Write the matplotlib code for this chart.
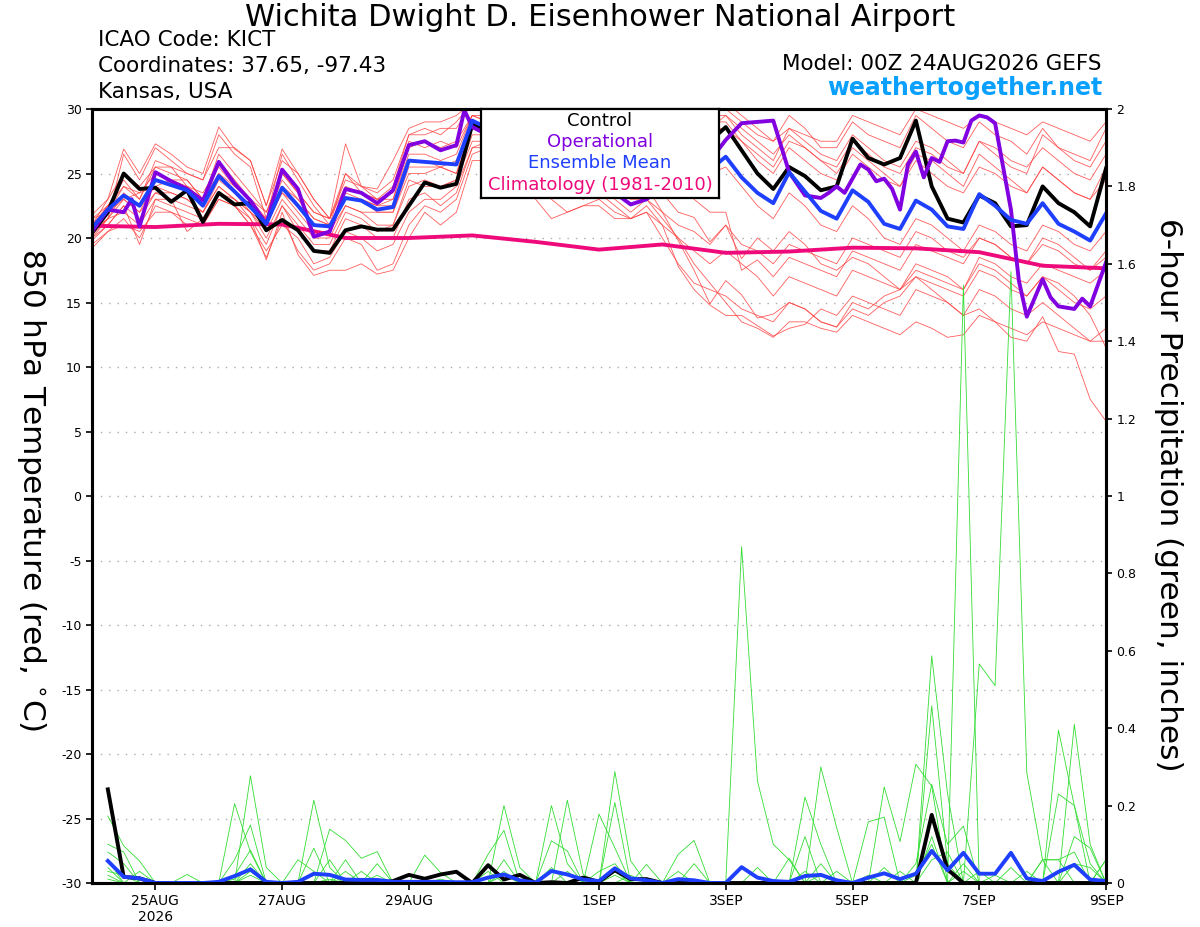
import numpy as np
import matplotlib
matplotlib.use('Agg')
import matplotlib.pyplot as plt

plt.rcParams['font.family'] = ['DejaVu Sans']

# forecast hours (00Z 24AUG2026 GEFS run)
temp_hours = np.arange(0, 385, 6)
precip_hours = np.arange(6, 385, 6)

# control run, 850 hPa temperature (C)
control_temp = [20.4, 22.0, 25.0, 23.8, 23.9, 22.8, 23.7, 21.25, 23.5, 22.6, 22.7, 20.6, 21.4, 20.6, 19.0, 18.85, 20.6, 20.9, 20.65, 20.65, 22.5, 24.3, 23.9, 24.2, 28.8,
                28.4, 28.0, 27.5, 27.0, 26.5, 26.0, 25.5, 25.0, 24.8, 24.5, 25.0, 25.5, 26.0, 26.5, 27.5,
                28.6, 26.8, 25.0, 23.8, 25.5, 24.8, 23.7, 24.0, 27.7, 26.2, 25.7, 26.2, 29.1, 24.0, 21.5, 21.2, 23.3, 22.7, 20.9, 21.0, 24.0, 22.7, 22.0, 20.9, 25.4]

# ensemble mean temperature
mean_temp = [20.8, 22.2, 23.3, 22.5, 24.5, 24.1, 23.7, 22.5, 24.8, 23.6, 22.4, 21.1, 23.9, 22.5, 21.0, 20.9, 23.1, 22.9, 22.2, 22.4, 26.0, 25.9, 25.8, 25.7, 29.1,
             28.5, 27.8, 27.0, 26.5, 27.0, 26.3, 25.5, 25.8, 25.0, 24.3, 24.5, 25.0, 24.5, 24.5, 25.3,
             26.3, 24.7, 23.5, 22.7, 25.1, 23.6, 22.1, 21.5, 23.7, 22.8, 21.1, 20.7, 22.9, 22.2, 20.9, 20.7, 23.4, 22.5, 21.4, 21.1, 22.7, 21.1, 20.5, 19.8, 21.9]

# operational run (read at its own output hours)
op_hours = [0, 6, 12, 15, 18, 24, 30, 36, 42, 48, 54, 60, 66, 72, 78, 84, 90, 96, 102, 108, 114, 120, 126, 132, 138, 141, 144,
            150, 156, 162, 168, 174, 180, 186, 192, 198, 204, 210, 216, 222, 228, 234, 240, 246, 252, 258, 264,
            270, 273, 276, 279, 282, 285, 291, 294, 297, 300, 303, 306, 309, 312, 315, 318, 321, 324, 327, 330,
            333, 336, 339, 342, 348, 351, 354, 360, 363, 366, 372, 375, 378, 384]
op_temp = [20.5, 22.2, 22.0, 23.0, 20.9, 25.1, 24.4, 23.8, 22.9, 25.9, 24.2, 22.9, 21.1, 25.3, 23.8, 20.1, 20.5, 23.8, 23.5, 22.7, 23.7, 27.2, 27.5, 26.8, 27.2, 29.9, 28.6,
           28.0, 27.5, 27.0, 26.5, 26.0, 25.5, 24.5, 24.0, 23.5, 22.6, 23.0, 24.0, 24.5, 25.5, 26.0, 27.6, 28.9, 29.0, 29.1, 25.1,
           23.3, 23.2, 23.1, 23.5, 24.0, 23.5, 25.7, 25.3, 24.4, 24.6, 23.8, 22.2, 25.7, 26.7, 24.7, 26.2, 25.9, 27.5, 27.55, 27.4,
           29.1, 29.5, 29.35, 28.9, 22.2, 16.7, 13.9, 16.8, 15.4, 14.7, 14.5, 15.3, 14.7, 18.1]

# climatology 1981-2010, daily
clim_days = np.arange(0, 17)
clim_temp = [20.95, 20.85, 21.1, 21.05, 20.0, 20.0, 20.2, 19.7, 19.1, 19.5, 18.85, 18.95, 19.25, 19.2, 18.9, 17.85, 17.65]

# ensemble members, temperature
red_01 = [21.0, 22.5, 24.5, 23.0, 26.0, 25.5, 24.0, 23.0, 26.5, 25.0, 23.5, 22.0, 25.0, 23.5, 22.0, 21.5, 24.5, 24.0, 23.0, 23.5, 27.5, 27.0, 27.5, 27.0, 29.5,
          29.0, 28.5, 28.0, 27.5, 28.0, 27.0, 26.5, 27.0, 26.0, 25.5, 26.0, 27.0, 26.5, 27.5, 28.5,
          29.5, 28.0, 27.0, 26.0, 28.5, 27.5, 26.5, 26.0, 28.0, 27.0, 26.0, 25.5, 27.5, 27.0, 26.0, 25.0, 27.5, 26.5, 25.5, 25.0, 28.0, 27.0, 26.5, 26.0, 28.5]
red_02 = [19.5, 20.5, 21.5, 20.0, 22.5, 22.0, 21.0, 21.0, 23.0, 22.5, 21.0, 18.5, 21.5, 19.0, 17.5, 18.0, 20.0, 19.5, 17.5, 18.0, 21.0, 22.5, 22.0, 23.0, 26.5,
          27.0, 26.5, 25.5, 24.0, 23.0, 22.0, 22.5, 23.0, 22.0, 21.5, 22.5, 21.0, 17.8, 16.0, 14.8,
          14.0, 14.0, 13.2, 12.4, 13.0, 13.3, 14.5, 14.0, 15.5, 15.0, 14.5, 14.0, 16.0, 15.5, 15.0, 14.0, 16.0, 15.5, 14.5, 14.0, 15.0, 14.0, 13.0, 12.0, 12.0]
red_03 = [20.5, 21.5, 26.5, 24.5, 27.0, 26.0, 25.0, 24.5, 28.0, 26.5, 25.5, 21.5, 26.5, 24.5, 22.5, 21.0, 25.0, 23.5, 23.0, 24.0, 28.0, 28.5, 28.0, 29.0, 30.5,
          30.5, 29.5, 29.0, 28.5, 29.0, 28.5, 27.5, 28.0, 27.5, 26.5, 27.5, 28.5, 29.0, 29.5, 30.0,
          30.5, 29.5, 28.5, 27.5, 29.5, 28.5, 27.0, 27.0, 29.0, 28.0, 27.5, 27.0, 29.5, 28.5, 27.5, 27.0, 29.0, 28.0, 27.5, 26.5, 28.5, 27.0, 26.0, 25.5, 27.5]
red_04 = [20.0, 21.0, 22.5, 21.5, 23.5, 23.5, 23.0, 22.0, 24.0, 23.0, 22.0, 20.0, 22.5, 21.0, 19.5, 19.5, 22.0, 21.5, 20.5, 21.0, 24.0, 24.5, 24.0, 24.5, 27.5,
          27.5, 27.0, 26.0, 25.5, 25.0, 24.5, 24.0, 24.5, 23.0, 22.0, 23.0, 23.5, 22.0, 21.6, 19.7,
          21.0, 18.4, 20.0, 19.0, 20.5, 19.5, 18.0, 17.5, 18.5, 18.0, 17.0, 16.0, 17.0, 16.0, 15.0, 14.0, 14.5, 13.5, 12.3, 12.0, 13.9, 11.2, 11.0, 7.5, 5.8]
red_05 = [21.5, 22.0, 23.0, 23.5, 24.0, 24.5, 24.5, 23.0, 25.0, 24.0, 23.0, 21.0, 24.0, 23.0, 21.5, 21.0, 23.0, 23.0, 22.5, 22.5, 26.0, 26.0, 25.5, 26.0, 29.0,
          28.5, 28.0, 27.0, 26.5, 27.0, 26.5, 25.0, 25.5, 24.5, 24.0, 24.0, 22.0, 19.8, 17.5, 14.9,
          16.7, 15.6, 13.8, 14.1, 15.0, 14.5, 13.5, 13.1, 14.5, 14.0, 15.0, 15.5, 17.0, 16.5, 16.0, 15.5, 17.5, 17.0, 16.0, 15.5, 17.0, 16.5, 15.5, 14.0, 11.5]
red_06 = [20.8, 22.5, 23.0, 22.0, 24.5, 24.0, 24.0, 22.5, 25.0, 23.5, 22.0, 21.0, 23.5, 22.0, 20.5, 20.5, 22.5, 22.0, 22.0, 22.0, 25.5, 25.5, 25.5, 25.0, 29.0,
          28.0, 27.5, 27.0, 26.0, 27.0, 26.0, 25.0, 25.5, 25.0, 24.0, 24.5, 25.5, 24.0, 23.0, 22.0,
          22.0, 17.5, 18.3, 17.0, 18.5, 18.0, 17.5, 17.0, 19.0, 18.5, 18.0, 17.5, 19.5, 19.0, 18.5, 18.0, 20.0, 19.5, 18.5, 18.0, 20.0, 19.5, 18.5, 17.5, 19.0]
red_07 = [21.0, 23.0, 25.0, 24.0, 25.5, 25.5, 25.0, 24.5, 27.0, 27.0, 26.0, 22.5, 26.0, 25.0, 23.0, 21.5, 27.3, 24.0, 23.8, 26.0, 28.5, 29.0, 29.0, 29.5, 30.5,
          30.0, 29.5, 29.0, 29.0, 29.5, 29.0, 28.0, 28.5, 28.0, 27.5, 28.0, 29.0, 29.5, 30.0, 30.5,
          30.0, 29.0, 28.0, 27.5, 28.5, 28.0, 27.5, 27.5, 29.5, 29.0, 28.5, 28.0, 30.0, 29.5, 29.0, 28.5, 29.5, 29.0, 28.5, 28.0, 29.0, 28.5, 28.0, 27.5, 29.0]
red_08 = [19.8, 21.0, 22.5, 19.5, 23.0, 23.0, 20.5, 21.5, 23.5, 23.0, 21.5, 19.5, 22.5, 20.5, 19.0, 19.0, 21.5, 21.0, 20.0, 20.0, 23.0, 23.5, 22.5, 23.5, 27.0,
          27.5, 26.5, 25.5, 24.5, 24.0, 23.5, 23.0, 23.5, 22.5, 21.5, 22.0, 21.0, 20.0, 19.0, 18.0,
          19.0, 18.0, 17.0, 15.5, 17.0, 16.5, 16.0, 15.5, 17.5, 17.0, 16.5, 16.0, 18.0, 17.5, 17.0, 16.0, 18.5, 18.0, 17.0, 16.5, 18.0, 17.5, 17.0, 16.5, 17.5]
red_09 = [21.5, 22.5, 24.0, 23.0, 25.5, 25.0, 24.5, 23.0, 26.0, 24.5, 23.0, 22.0, 25.0, 23.5, 22.0, 21.5, 24.0, 23.5, 23.0, 23.0, 27.0, 27.5, 27.0, 27.5, 29.5,
          29.5, 29.0, 28.5, 28.0, 28.5, 28.0, 27.0, 27.5, 27.0, 26.5, 26.5, 27.5, 28.0, 28.5, 29.0,
          29.0, 27.5, 26.0, 25.0, 27.0, 26.0, 25.0, 24.5, 26.5, 25.5, 24.5, 24.0, 26.0, 25.0, 24.0, 23.5, 25.5, 25.0, 24.0, 23.5, 25.5, 24.5, 23.5, 23.0, 24.5]
red_10 = [20.2, 21.5, 23.5, 22.5, 24.0, 23.5, 23.0, 22.0, 24.5, 23.5, 22.5, 21.5, 23.5, 22.5, 21.0, 21.0, 23.0, 23.0, 22.0, 22.0, 25.0, 25.0, 25.5, 25.0, 28.5,
          28.5, 28.0, 27.5, 27.0, 27.5, 27.0, 26.0, 26.0, 25.5, 25.0, 25.0, 26.0, 25.0, 24.5, 25.0,
          25.5, 24.0, 22.5, 21.5, 23.5, 22.5, 21.0, 20.5, 22.5, 21.5, 20.0, 19.5, 21.5, 21.0, 20.0, 19.0, 21.0, 20.5, 19.5, 19.0, 21.0, 20.5, 19.5, 19.0, 20.5]
red_11 = [20.5, 21.5, 22.0, 21.0, 23.0, 22.5, 22.0, 21.5, 23.5, 22.5, 21.5, 18.3, 22.0, 18.7, 17.1, 17.5, 17.5, 18.0, 17.2, 17.5, 20.0, 22.0, 21.0, 22.0, 26.0,
          26.0, 25.5, 24.5, 23.0, 21.5, 22.0, 22.5, 22.5, 21.5, 21.5, 22.0, 20.0, 18.0, 16.5, 16.0,
          15.5, 14.5, 14.0, 13.5, 15.0, 14.5, 13.5, 13.1, 15.0, 14.5, 15.5, 16.0, 17.5, 17.0, 16.5, 16.0, 18.0, 17.5, 16.5, 15.5, 17.0, 16.0, 15.0, 14.5, 15.5]
red_12 = [21.8, 23.0, 26.9, 25.0, 27.3, 26.5, 25.5, 25.0, 28.6, 26.9, 26.0, 22.5, 26.9, 25.0, 23.0, 21.5, 25.0, 24.0, 23.5, 24.5, 28.0, 28.0, 28.5, 28.5, 30.5,
          30.0, 29.0, 28.5, 28.0, 28.5, 28.0, 27.5, 28.0, 27.0, 26.5, 27.0, 28.0, 28.5, 29.0, 29.5,
          29.5, 28.5, 27.5, 26.5, 28.0, 27.0, 26.0, 25.5, 27.5, 26.5, 25.5, 25.0, 27.0, 26.5, 25.5, 25.0, 27.5, 27.0, 26.0, 25.5, 27.0, 26.0, 25.0, 24.5, 26.5]
red_13 = [19.2, 20.5, 21.0, 20.5, 22.0, 22.0, 21.5, 21.0, 23.0, 22.5, 21.0, 19.0, 21.0, 20.0, 18.0, 18.5, 20.5, 20.0, 19.0, 19.5, 22.0, 23.0, 23.0, 24.0, 27.0,
          27.0, 26.0, 25.5, 25.0, 24.5, 24.0, 24.0, 24.0, 23.5, 22.5, 23.0, 22.0, 21.0, 20.5, 19.5,
          21.0, 19.5, 19.0, 18.0, 19.5, 19.0, 18.5, 18.0, 20.0, 19.5, 19.0, 18.5, 20.5, 20.0, 19.0, 18.5, 20.0, 19.5, 18.5, 18.0, 19.5, 19.0, 18.0, 17.5, 18.5]
red_14 = [20.0, 21.5, 23.0, 22.0, 23.5, 23.0, 22.5, 22.0, 24.0, 23.0, 22.0, 20.5, 23.0, 21.5, 20.0, 20.0, 22.5, 22.0, 21.0, 21.0, 24.5, 24.0, 24.0, 24.5, 28.0,
          28.0, 27.0, 26.5, 25.5, 26.0, 25.0, 24.5, 24.5, 23.5, 23.0, 23.0, 21.5, 20.0, 18.0, 16.5,
          15.0, 13.5, 13.0, 12.3, 13.5, 13.5, 13.0, 12.7, 14.0, 13.5, 13.0, 12.5, 13.5, 13.0, 12.3, 12.5, 14.0, 13.5, 13.0, 12.5, 13.5, 13.0, 12.5, 12.0, 13.0]
red_15 = [21.0, 22.0, 24.0, 23.5, 25.0, 24.5, 24.0, 23.5, 25.5, 24.0, 23.0, 21.5, 24.5, 23.0, 21.5, 21.0, 23.5, 23.0, 22.5, 23.0, 26.5, 26.5, 26.0, 26.5, 29.5,
          29.0, 28.5, 28.0, 27.5, 28.0, 27.5, 26.5, 27.0, 26.5, 26.0, 26.0, 27.0, 27.5, 28.0, 28.5,
          28.5, 27.5, 26.5, 25.5, 27.5, 27.0, 26.0, 25.0, 27.0, 26.0, 25.0, 24.0, 26.5, 26.0, 25.0, 24.0, 26.5, 25.5, 24.5, 23.5, 25.5, 24.5, 23.5, 23.0, 25.5]
red_members = [red_01, red_02, red_03, red_04, red_05, red_06, red_07, red_08,
               red_09, red_10, red_11, red_12, red_13, red_14, red_15]

# 6-hour precipitation (inches)
control_precip = [0.242, 0.016, 0.012, 0, 0, 0, 0, 0, 0, 0, 0, 0, 0, 0, 0, 0,
                  0, 0, 0.005, 0.021, 0.011, 0.022, 0.029, 0, 0.046, 0.009, 0.021, 0, 0.002, 0, 0.014, 0.003,
                  0.033, 0.01, 0.01, 0, 0, 0, 0, 0, 0, 0, 0, 0, 0, 0, 0, 0,
                  0, 0, 0, 0, 0.176, 0.035, 0, 0, 0, 0, 0, 0, 0, 0, 0, 0]
mean_precip = [0.057, 0.016, 0.012, 0, 0, 0, 0, 0.003, 0.018, 0.035, 0.003, 0, 0.003, 0.024, 0.021, 0.009,
               0.008, 0.008, 0.003, 0.003, 0.003, 0.003, 0.002, 0.002, 0.014, 0.022, 0.007, 0.001, 0.031, 0.022, 0.009, 0.005,
               0.038, 0.012, 0.007, 0, 0.01, 0.007, 0, 0, 0.041, 0.014, 0.005, 0.003, 0.018, 0.021, 0.007, 0,
               0.014, 0.025, 0.01, 0.024, 0.083, 0.033, 0.078, 0.024, 0.024, 0.078, 0.012, 0.005, 0.029, 0.047, 0.009, 0.005]

green_01 = [.173, .096, .057, 0, 0, 0, 0, 0, .205, .08, 0, 0, 0, .214, .04, 0,
            0, 0, 0, 0, 0, 0, 0, 0, 0, 0, 0, 0, .2, .05, 0, 0,
            0, 0, 0, 0, 0, 0, 0, 0, .869, .264, .1, .06, 0, 0, 0, 0,
            0, 0, 0, 0, .587, .23, 0, 0, 0, 0, 0, 0, .395, .2, .05, 0]
green_02 = [.10, .08, 0, 0, 0, 0, 0, 0, 0, .277, .04, 0, 0, 0, .139, .11,
            .064, .081, 0, 0, 0, 0, 0, 0, 0, .2, .04, 0, 0, 0, 0, 0,
            .288, .057, 0, 0, 0, 0, 0, 0, 0, 0, 0, 0, 0, .3, .143, 0,
            0, 0, 0, 0, 0, 0, 1.545, 0, 0, 0, 0, 0, 0, .41, .1, 0]
green_03 = [.08, .05, 0, 0, 0, 0, 0, 0, .06, .15, 0, 0, 0, .09, 0, .06,
            0, 0, 0, 0, .072, .027, 0, 0, 0, 0, 0, 0, 0, .214, .022, 0,
            .208, 0, .048, 0, 0, 0, 0, 0, 0, 0, 0, 0, .222, .1, 0, 0,
            0, .248, .107, .307, .25, 0, 0, .566, .51, 1.58, .285, .059, 0, 0, 0, 0]
green_04 = [.06, 0, 0, 0, 0, 0, 0, 0, .02, .085, 0, 0, .06, .03, 0, 0,
            0, .05, 0, 0, 0, 0, 0, 0, .074, .136, 0, 0, .109, .083, 0, .178,
            .091, 0, 0, 0, .074, .11, 0, 0, 0, 0, 0, 0, .12, 0, 0, 0,
            .158, .17, 0, 0, .458, .05, 0, 0, 0, 0, 0, 0, .23, .2, 0, .06]
green_05 = [.04, 0, .03, 0, 0, .022, 0, 0, 0, .05, 0, 0, 0, 0, .06, 0,
            .03, 0, 0, 0, 0, 0, 0, 0, 0, .06, 0, 0, 0, 0, 0, .03,
            .05, 0, 0, 0, 0, .05, 0, 0, 0, 0, 0, .064, 0, .05, 0, 0,
            0, 0, 0, .05, .255, .1, .147, 0, 0, 0, .03, 0, 0, .12, .09, 0]
green_06 = [.02, 0, 0, 0, 0, 0, 0, 0, 0, .03, 0, 0, 0, .02, .02, 0,
            0, 0, 0, 0, 0, 0, 0, 0, .03, 0, 0, 0, .04, 0, 0, 0,
            .03, 0, 0, 0, .03, 0, 0, 0, 0, .04, 0, 0, 0, 0, .03, 0,
            0, .04, 0, .02, .1, 0, .03, 0, .02, 0, 0, .06, .06, 0, 0, .06]
green_07 = [.03, .02, 0, 0, 0, 0, 0, 0, .01, .04, 0, 0, 0, 0, 0, .03,
            0, .02, 0, 0, 0, 0, 0, 0, 0, .03, 0, 0, 0, .03, 0, 0,
            0, .02, 0, 0, 0, 0, 0, 0, 0, 0, 0, 0, 0, .02, 0, 0,
            0, 0, .03, 0, .06, .08, 0, .03, 0, 0, 0, 0, 0, .05, .04, 0]
green_08 = [.01, 0, 0, 0, 0, 0, 0, 0, 0, .02, 0, 0, 0, 0, .01, 0,
            0, 0, 0, 0, 0, .01, 0, 0, 0, .02, 0, 0, 0, 0, 0, 0,
            .02, 0, 0, 0, 0, 0, 0, 0, 0, 0, 0, 0, .03, 0, 0, 0,
            .02, 0, 0, 0, .12, 0, .05, 0, 0, .04, 0, .06, .06, .08, 0, 0]
green_members = [green_01, green_02, green_03, green_04, green_05, green_06, green_07, green_08]

tick_days = [1, 3, 5, 8, 10, 12, 14, 16]
tick_labels = ['25AUG\n2026', '27AUG', '29AUG', '1SEP', '3SEP', '5SEP', '7SEP', '9SEP']
temp_ticks = np.arange(-30, 31, 5)
precip_ticks = [0, 0.2, 0.4, 0.6, 0.8, 1.0, 1.2, 1.4, 1.6, 1.8, 2.0]
precip_tick_labels = ['0', '0.2', '0.4', '0.6', '0.8', '1', '1.2', '1.4', '1.6', '1.8', '2']

W, H = 1200, 927
fig = plt.figure(figsize=(W / 100, H / 100), dpi=100)
ax = fig.add_axes([92 / W, 1 - 883 / H, (1106 - 92) / W, (883 - 109) / H])

t = temp_hours / 24
for m in red_members:
    ax.plot(t, m, color='#ff4040', lw=0.6, alpha=0.85)
ax.plot(clim_days, clim_temp, color='#ee0a7b', lw=2.8)
ax.plot(t, control_temp, color='black', lw=2.8)
ax.plot(np.array(op_hours) / 24, op_temp, color='#8000e0', lw=2.8)
ax.plot(t, mean_temp, color='#1f3fff', lw=2.8)

ax.set_xlim(0, 16)
ax.set_ylim(-30, 30)
ax.set_yticks(temp_ticks)
ax.set_yticklabels([str(v) for v in temp_ticks], fontsize=9)
ax.set_xticks(tick_days)
ax.set_xticklabels(tick_labels, fontsize=10)
ax.tick_params(axis='both', direction='out', length=4, width=1.2)
ax.tick_params(axis='x', length=5, pad=3)
for v in temp_ticks[1:-1]:
    ax.axhline(v, color='#aaaaaa', lw=1.0, linestyle=(0, (1, 5)), zorder=0)

ax2 = ax.twinx()
tp = precip_hours / 24
for g in green_members:
    ax2.plot(tp, g, color='#33dd33', lw=0.6)
ax2.plot(tp, control_precip, color='black', lw=2.8)
ax2.plot(tp, mean_precip, color='#1f3fff', lw=2.8)
ax2.set_ylim(0, 2)
ax2.set_xlim(0, 16)
ax2.set_yticks(precip_ticks)
ax2.set_yticklabels(precip_tick_labels, fontsize=9)
ax2.tick_params(axis='y', direction='out', length=4, width=1.2)

for a in (ax, ax2):
    for s in a.spines.values():
        s.set_linewidth(2.2)

# axis titles, both read top to bottom
fig.text(31 / W, 1 - 490 / H, '850 hPa Temperature (red, $^{\\circ}$C)', fontsize=22.5,
         rotation=-90, ha='center', va='center')
fig.text(1168 / W, 1 - 495 / H, '6-hour Precipitation (green, inches)', fontsize=22.5,
         rotation=-90, ha='center', va='center')

# legend box attached to top of plot
lg = fig.add_axes([481 / W, 1 - 198 / H, (719 - 481) / W, (198 - 109) / H], zorder=10)
lg.set_xticks([])
lg.set_yticks([])
lg.set_xlim(0, 1)
lg.set_ylim(0, 1)
for s in lg.spines.values():
    s.set_linewidth(1.6)
legend_items = [('Control', 'black'), ('Operational', '#8000e0'),
                ('Ensemble Mean', '#1f3fff'), ('Climatology (1981-2010)', '#ee0a7b')]
for k, (txt, col) in enumerate(legend_items):
    lg.text(0.5, 0.87 - k * 0.24, txt, color=col, fontsize=13, ha='center', va='center')

fig.text(600 / W, 1 - 18 / H, 'Wichita Dwight D. Eisenhower National Airport',
         fontsize=22, ha='center', va='center')
fig.text(98 / W, 1 - 40 / H, 'ICAO Code: KICT', fontsize=15.5, ha='left', va='center')
fig.text(98 / W, 1 - 66 / H, 'Coordinates: 37.65, -97.43', fontsize=15.5, ha='left', va='center')
fig.text(98 / W, 1 - 92 / H, 'Kansas, USA', fontsize=15.5, ha='left', va='center')
fig.text(1101 / W, 1 - 64 / H, 'Model: 00Z 24AUG2026 GEFS', fontsize=15.5, ha='right', va='center')
fig.text(1102 / W, 1 - 88 / H, 'weathertogether.net', fontsize=17, fontweight='bold',
         color='#0aa0ff', ha='right', va='center')

fig.savefig('out.png', dpi=100)
